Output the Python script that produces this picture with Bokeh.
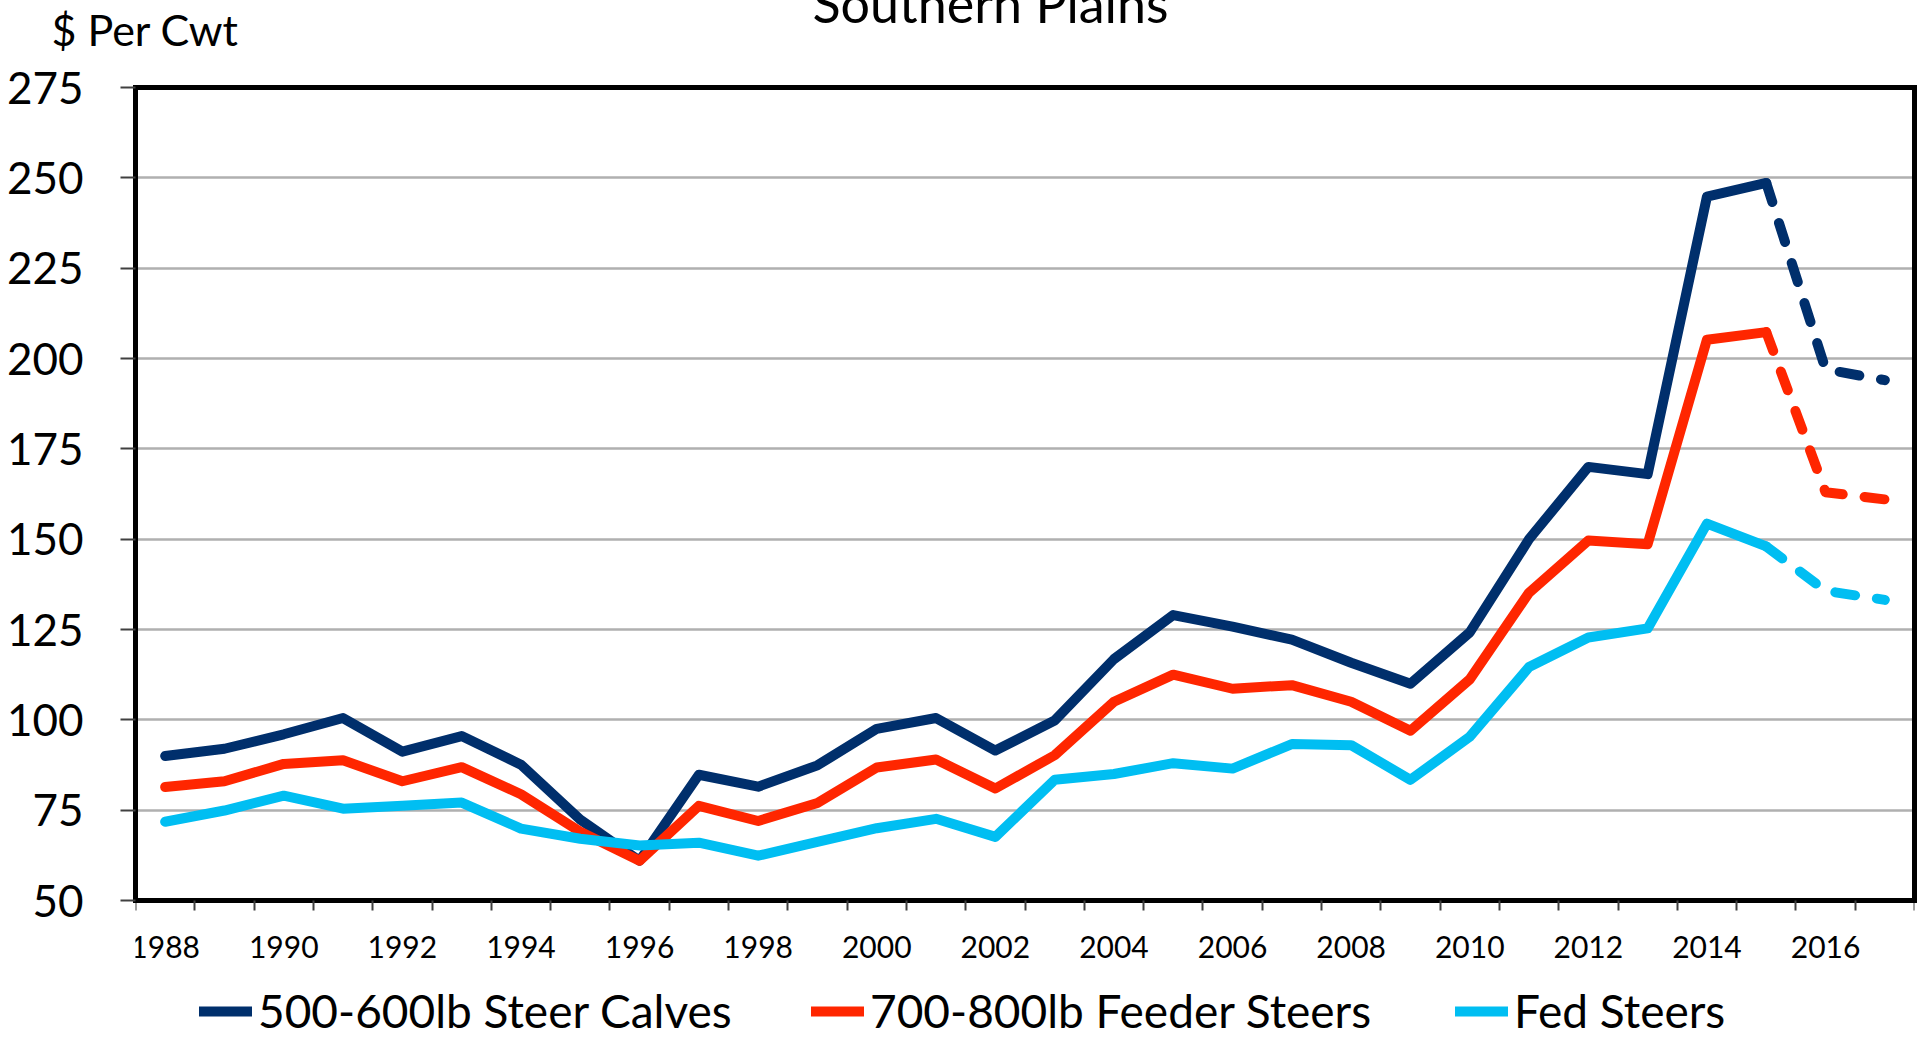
from bokeh.plotting import figure
from bokeh.models import (ColumnDataSource, Range1d, FixedTicker, Legend, LegendItem, Title, LinearAxis)
from bokeh.embed import file_html
from bokeh.resources import INLINE

years = list(range(1988, 2018))
calves = [90, 92, 96, 100.5, 91.2, 95.5, 87.6, 72.4, 61, 84.8, 81.5, 87.4, 97.5, 100.5, 91.5, 99.8,
          116.8, 129, 125.8, 122.2, 115.8, 110, 124.2, 150, 170, 168, 244.8, 248.6, 197, 194]
feeders = [81.4, 83, 87.8, 88.8, 83, 86.9, 79.4, 69, 61, 76.2, 72, 77, 86.8, 89, 81, 90.2,
           105, 112.5, 108.6, 109.6, 105, 97, 111.2, 135.2, 149.6, 148.6, 205.2, 207.3, 163, 161]
fed = [71.8, 74.9, 79, 75.4, 76.2, 77.1, 69.9, 67.1, 65.2, 66, 62.4, 66.2, 70, 72.6, 67.6, 83.4,
       85, 88, 86.5, 93.3, 93, 83.4, 95.3, 114.6, 122.8, 125.3, 154.3, 148, 135.7, 133.2]
series_names = ["500-600lb Steer Calves", "700-800lb Feeder Steers", "Fed Steers"]
series_colors = ["#002F6C", "#FF2600", "#00BEF2"]
y_ticks = [50, 75, 100, 125, 150, 175, 200, 225, 250, 275]
x_label_years = list(range(1988, 2017, 2))
last_actual = 2015
title_text = "Southern Plains"
y_title = "$ Per Cwt"

FONT = "Lato"
W, H = 1920, 1038
TOP, LEFT, RIGHT = 87, 135, 6          # frame borders in px
AXIS_PX = 900                          # where the value axis bottom (50) sits
y_lo, y_hi = y_ticks[0], y_ticks[-1]
# the frame runs to the bottom of the canvas so that the legend is inside it;
# the lower range bound is chosen so that y_lo lands on AXIS_PX
px_per_unit = (AXIS_PX - TOP) / (y_hi - y_lo)
y_start = y_lo - (H - AXIS_PX) / px_per_unit

p = figure(width=W, height=H, output_backend="svg", toolbar_location=None,
           x_range=Range1d(years[0] - 0.5, years[-1] + 0.5),
           y_range=Range1d(y_start, y_hi),
           min_border_left=LEFT, min_border_right=RIGHT, min_border_top=TOP, min_border_bottom=0)
p.background_fill_color = "white"
p.border_fill_color = "white"
p.outline_line_color = None

# bottom axis drawn at y = 50: labels at even years, tick marks at category boundaries
xa = p.xaxis[0]
xa.fixed_location = y_lo
xa.ticker = FixedTicker(ticks=x_label_years,
                        minor_ticks=[y - 0.5 for y in years] + [years[-1] + 0.5])
xa.axis_line_color = "black"
xa.axis_line_width = 5
xa.axis_line_cap = "square"
xa.major_tick_line_alpha = 0
xa.major_tick_out = 10
xa.major_tick_in = 0
xa.minor_tick_out = 10
xa.minor_tick_in = 0
xa.minor_tick_line_color = "#404040"
xa.minor_tick_line_width = 2
xa.major_label_text_font = FONT
xa.major_label_text_font_size = "30px"
xa.major_label_text_color = "black"
xa.major_label_standoff = 25

ya = p.yaxis[0]
ya.bounds = (y_lo, y_hi)
ya.ticker = FixedTicker(ticks=y_ticks, minor_ticks=[])
ya.axis_line_color = "black"
ya.axis_line_width = 5
ya.axis_line_cap = "square"
ya.major_tick_out = 15
ya.major_tick_in = 0
ya.major_tick_line_color = "#404040"
ya.major_tick_line_width = 2
ya.major_label_text_font = FONT
ya.major_label_text_font_size = "44px"
ya.major_label_text_color = "black"
ya.major_label_standoff = 37

# top and right borders of the plot box
top_axis = LinearAxis(ticker=FixedTicker(ticks=[]), axis_line_color="black", axis_line_width=5,
                      axis_line_cap="square", major_tick_line_color=None, minor_tick_line_color=None)
right_axis = LinearAxis(ticker=FixedTicker(ticks=[]), bounds=(y_lo, y_hi), axis_line_color="black",
                        axis_line_width=5, axis_line_cap="square",
                        major_tick_line_color=None, minor_tick_line_color=None)
p.add_layout(top_axis, "above")
p.add_layout(right_axis, "right")

p.xgrid.grid_line_color = None
p.ygrid.ticker = FixedTicker(ticks=y_ticks[1:-1])
p.ygrid.grid_line_color = "#B0B0B0"
p.ygrid.grid_line_width = 2.5

cut = years.index(last_actual)
legend_x = [64, 676, 1320]
for vals, name, col, lx in zip([calves, feeders, fed], series_names, series_colors, legend_x):
    src_solid = ColumnDataSource(dict(x=years[:cut + 1], y=vals[:cut + 1]))
    src_dash = ColumnDataSource(dict(x=years[cut:], y=vals[cut:]))
    r = p.line("x", "y", source=src_solid, line_color=col, line_width=10,
               line_join="round", line_cap="round")
    p.line("x", "y", source=src_dash, line_color=col, line_width=10,
           line_join="round", line_cap="round", line_dash="20 22")
    p.add_layout(Legend(items=[LegendItem(label=name, renderers=[r])], location=(lx, 0),
                        orientation="horizontal", glyph_width=53, glyph_height=30,
                        label_standoff=6, padding=0, margin=0, spacing=0,
                        border_line_color=None, background_fill_alpha=0,
                        label_text_font=FONT, label_text_font_size="46px",
                        label_text_color="black"))

# top area: spacer, then the unit text, then the (clipped) chart title
p.add_layout(Title(text=" ", text_font_size="1px", standoff=30), "above")
p.add_layout(Title(text=y_title, align="left", offset=-84, vertical_align="bottom", standoff=0,
                   text_font=FONT, text_font_size="43px", text_font_style="normal",
                   text_color="black"), "above")
p.add_layout(Title(text=title_text, align="left", offset=677, vertical_align="bottom", standoff=-64,
                   text_font=FONT, text_font_size="52px", text_font_style="normal",
                   text_color="black"), "above")

open("out.html", "w").write(file_html(p, INLINE))
